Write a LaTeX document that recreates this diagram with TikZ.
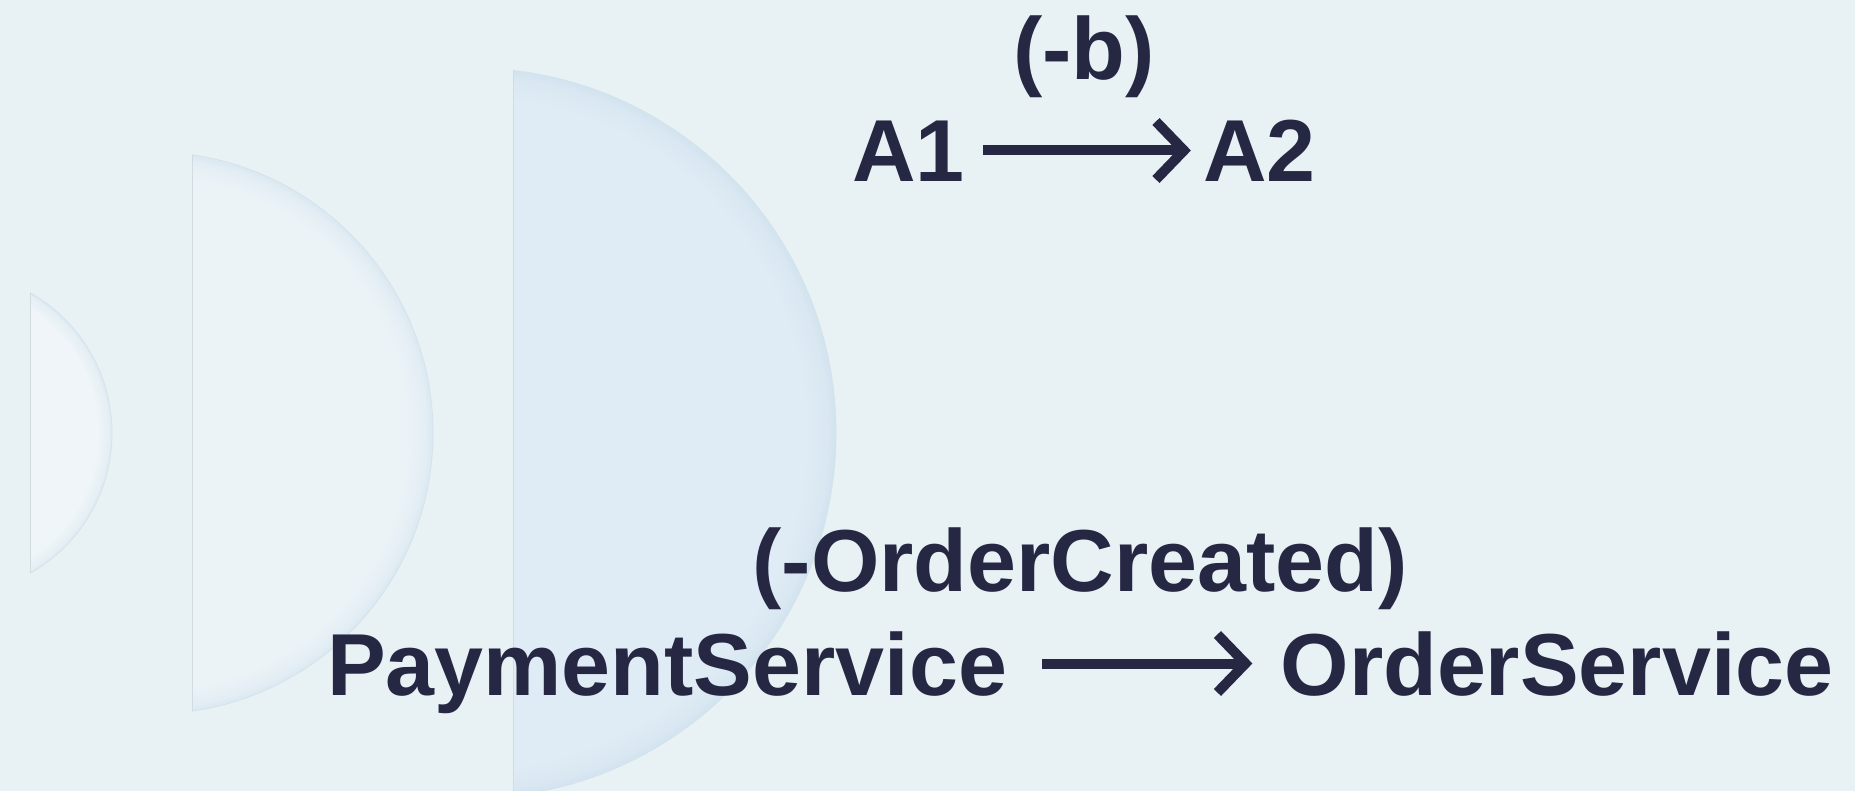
\documentclass[tikz,border=0pt]{standalone}
\usepackage{fontspec}
\setmainfont{Liberation Sans}
\usepackage{xcolor}
\usetikzlibrary{arrows.meta, positioning}

\definecolor{bgcol}{HTML}{E8F1F4}
\definecolor{ink}{HTML}{262843}
\definecolor{cutgray}{HTML}{D2DBE0}
\definecolor{lensedge}{HTML}{D5E3EC}
\definecolor{corea}{HTML}{EFF5F8}
\definecolor{rima}{HTML}{DCE9F1}
\definecolor{coreb}{HTML}{EBF3F7}
\definecolor{rimb}{HTML}{DAE8F1}
\definecolor{corec}{HTML}{E0ECF5}
\definecolor{rimc}{HTML}{D2E3EF}
\colorlet{lenscore}{corea}
\colorlet{lensrim}{rima}

% flat core with a soft rim glow
\pgfdeclareradialshading[lenscore,lensrim]{lens}{\pgfpointorigin}{%
  color(0bp)=(lenscore); color(22.8bp)=(lenscore);
  color(24.4bp)=(lensrim!50!lenscore); color(25bp)=(lensrim); color(50bp)=(lensrim)}

\begin{document}
\begin{tikzpicture}[x=1pt, y=-1pt,
      svc/.style={font=\fontsize{88}{100}\selectfont\bfseries, text=ink, inner sep=0pt, text height=63pt, text depth=0pt},
      lbl/.style={svc, anchor=south},
      arr/.style={-{Straight Barb[length=28pt, width=58pt]}, line width=10pt, draw=ink},
      cutline/.style={draw=cutgray, line width=1pt},
    ]
    % Background
    \fill[bgcol] (0,0) rectangle (1855,791);
    \useasboundingbox (0,0) rectangle (1855,791);

    % Lenses
    \foreach \cx/\rad/\cut/\core/\rim in {-49/161/30/corea/rima, 152/281/192/coreb/rimb, 471/365/513/corec/rimc}{
      \colorlet{lenscore}{\core}
      \colorlet{lensrim}{\rim}
      \begin{scope}
        \clip (\cut,0) rectangle (1855,791);
        \shade[shading=lens, draw=lensedge, line width=0.8pt] (\cx,433) circle[radius=\rad];
      \end{scope}
      \pgfmathsetmacro\half{\rad*sqrt(1-((\cut-\cx)/\rad)^2)}
      \draw[cutline] (\cut,{433-\half}) -- (\cut,{433+\half});
    }

    % Nodes
    \node[svc, anchor=base west] (a1) at (852,182) {A1};
    \node[svc, right=238pt of a1] (a2) {A2};
    \path (a1.base west) -- (a2.base east) coordinate[midway] (toprow);
    \node[lbl, above=102pt of toprow] (lblb) {(-b)};

    \node[svc, anchor=base west] (pay) at (327,695) {PaymentService};
    \node[svc, right=273pt of pay] (ord) {OrderService};
    \path (pay.base west) -- (ord.base east) coordinate[midway] (botrow);
    \node[lbl, above=103pt of botrow] (lblord) {(-OrderCreated)};

    % Paths
    \draw[arr, shorten <=18pt, shorten >=12pt] (a1) -- (a2);
    \draw[arr, shorten <=35pt, shorten >=28pt] (pay) -- (ord);
  \end{tikzpicture}
\end{document}
